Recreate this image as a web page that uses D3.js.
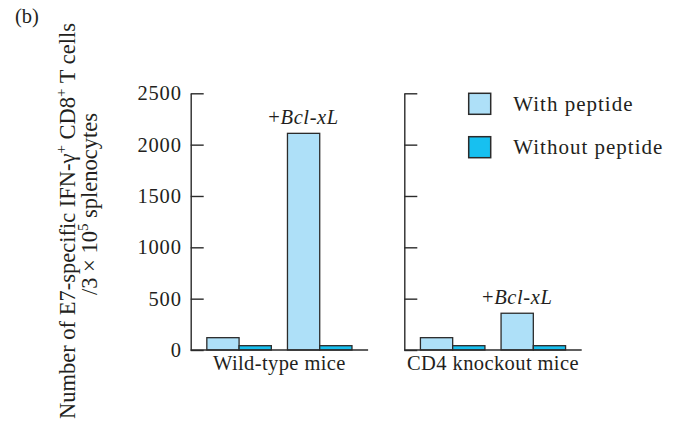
<!DOCTYPE html>
<html>
<head>
<meta charset="utf-8">
<script src="https://cdn.jsdelivr.net/npm/d3@7"></script>
<style>
  body { margin: 0; background: #fff; }
  text { font-family: "Liberation Serif", "Times New Roman", serif; fill: #231f20; }
</style>
</head>
<body>
<svg id="chart" width="683" height="427"></svg>
<script>
// ---- data ----
const panels = ["Wild-type mice", "CD4 knockout mice"];
const groups = ["Control", "+Bcl-xL"];
const series = ["With peptide", "Without peptide"];
const wildTypeWith = [120, 2110];
const wildTypeWithout = [42, 42];
const cd4With = [120, 358];
const cd4Without = [42, 42];
const yTicks = [0, 500, 1000, 1500, 2000, 2500];

const panelData = [
  { name: panels[0], withP: wildTypeWith, withoutP: wildTypeWithout, labels: true },
  { name: panels[1], withP: cd4With, withoutP: cd4Without, labels: false }
];

const colors = { "With peptide": "#aee0f8", "Without peptide": "#17c0f0" };
const ink = "#2b2b2b";
const fs = 20.5;

const svg = d3.select("#chart");

const y = d3.scaleLinear().domain([0, 2500]).range([350, 93.3]);

const panelLeft = [190.7, 404.3];
const panelWidth = 177.4;

panelData.forEach((p, i) => {
  const g = svg.append("g").attr("transform", `translate(${panelLeft[i]},0)`);
  const xg = d3.scaleBand().domain(groups).range([0, panelWidth]).paddingInner(0.2).paddingOuter(0.2);
  const xs = d3.scaleBand().domain(series).range([0, xg.bandwidth()]);

  const axis = d3.axisLeft(y).tickValues(yTicks).tickSizeInner(-13).tickSizeOuter(0).tickPadding(p.labels ? 9 : 0)
    .tickFormat(p.labels ? d3.format("d") : () => "");
  const ag = g.append("g").call(axis);
  ag.select(".domain").attr("stroke", ink).attr("stroke-width", 1.4);
  ag.selectAll(".tick line").attr("stroke", ink).attr("stroke-width", 1.4);
  ag.selectAll(".tick text").attr("font-size", fs).attr("font-family", "Liberation Serif").attr("fill", ink).attr("letter-spacing", 0.8);

  groups.forEach((grp, gi) => {
    const vals = [p.withP[gi], p.withoutP[gi]];
    series.forEach((s, si) => {
      g.append("rect")
        .attr("x", xg(grp) + xs(s))
        .attr("y", y(vals[si]))
        .attr("width", xs.bandwidth())
        .attr("height", y(0) - y(vals[si]))
        .attr("fill", colors[s])
        .attr("stroke", ink)
        .attr("stroke-width", 1.3);
    });
  });

  g.append("line").attr("x1", 0).attr("x2", panelWidth).attr("y1", y(0)).attr("y2", y(0))
    .attr("stroke", ink).attr("stroke-width", 1.4);

  const t = g.append("text")
    .attr("x", xg(groups[1]) + xs(series[0]) + xs.bandwidth() / 2)
    .attr("y", y(p.withP[1]) - 9)
    .attr("text-anchor", "middle")
    .attr("font-size", fs)
    .attr("letter-spacing", 0.6);
  t.append("tspan").text("+");
  t.append("tspan").attr("font-style", "italic").text("Bcl-xL");

  g.append("text")
    .attr("x", panelWidth / 2)
    .attr("y", 370)
    .attr("text-anchor", "middle")
    .attr("font-size", fs)
    .attr("letter-spacing", 0.4)
    .text(p.name);
});

// legend
const legend = svg.append("g").attr("transform", "translate(468.7,93.3)");
series.forEach((s, i) => {
  legend.append("rect").attr("x", 0).attr("y", i * 43.4).attr("width", 22).attr("height", 21)
    .attr("fill", colors[s]).attr("stroke", ink).attr("stroke-width", 1.5);
  legend.append("text").attr("x", 44.6).attr("y", i * 43.4 + 17.5).attr("font-size", 21)
    .attr("letter-spacing", 1.0).text(s);
});

// y title
const tfs = 22.5;
const yt = svg.append("g");
const l1 = yt.append("text").attr("transform", "translate(75,221) rotate(-90)")
  .attr("text-anchor", "middle").attr("font-size", tfs);
l1.append("tspan").text("Number of E7-specific IFN-γ");
l1.append("tspan").attr("dy", -9).attr("font-size", 15).text("+");
l1.append("tspan").attr("dy", 9).text(" CD8");
l1.append("tspan").attr("dy", -9).attr("font-size", 15).text("+");
l1.append("tspan").attr("dy", 9).text(" T cells");

const l2 = yt.append("text").attr("transform", "translate(97,204) rotate(-90)")
  .attr("text-anchor", "middle").attr("font-size", tfs);
l2.append("tspan").text("/3 × 10");
l2.append("tspan").attr("dy", -9).attr("font-size", 15).text("5");
l2.append("tspan").attr("dy", 9).text(" splenocytes");

svg.append("text").attr("x", 15).attr("y", 23).attr("font-size", fs).text("(b)");
</script>
</body>
</html>
